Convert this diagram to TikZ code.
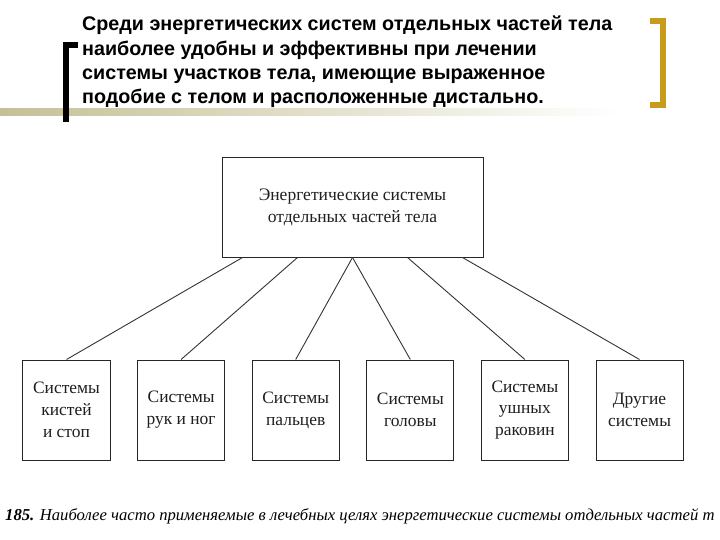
\documentclass[tikz,border=0pt]{standalone}
\usepackage{fontspec}
\setmainfont{Liberation Serif}
\newfontfamily\headfont{Liberation Sans}
\usepackage{xcolor}
\usetikzlibrary{positioning}
\definecolor{goldbar}{RGB}{200,156,26}
\definecolor{band}{RGB}{196,192,150}

\begin{document}
\begin{tikzpicture}[x=1bp, y=-1bp, node distance=26.6bp,
    every node/.style={text=black!88},
    topbox/.style={rectangle, draw=black!85, line width=1bp, minimum width=261bp, minimum height=99bp, align=center, font=\fontsize{17.6}{22}\selectfont},
    sysbox/.style={rectangle, draw=black!85, line width=1bp, minimum width=87bp, minimum height=100bp, align=center, inner sep=0pt, font=\fontsize{17.5}{22}\selectfont},
    link/.style={draw=black!80, line width=0.9bp},
]
\useasboundingbox[fill=white] (0,0) rectangle (720,540);

% header block
\shade[left color=band, right color=white] (0,109) rectangle (620,116);
\draw[line width=6bp, line join=miter] (78,45) -- (66,45) -- (66,122);
\draw[goldbar, line width=6bp, line join=miter] (650,21) -- (662.5,21) -- (662.5,105) -- (650,105);
\node[anchor=north west, inner sep=0pt, align=left, text=black, font=\headfont\bfseries\fontsize{19.8}{24.3}\selectfont] (lead) at (82,16)
    {Среди энергетических систем отдельных частей тела\\наиболее удобны и эффективны при лечении\\системы участков тела, имеющие выраженное\\подобие с телом и расположенные дистально.};

% tree
\node[topbox] (body) at (352.5,207.5) {Энергетические системы\\отдельных частей тела};
\node[sysbox] (kist) at (66.5,410) {Системы\\кистей\\и стоп};
\node[sysbox, right=of kist] (ruk) {Системы\\рук и ног};
\node[sysbox, right=of ruk] (palc) {Системы\\пальцев};
\node[sysbox, right=of palc] (golov) {Системы\\головы};
\node[sysbox, right=of golov] (ush) {Системы\\ушных\\раковин};
\node[sysbox, right=of ush] (drug) {Другие\\системы};

\foreach \n/\dx in {kist/-110, ruk/-55, palc/0, golov/0, ush/55, drug/110}
    \draw[link] ([xshift=\dx bp]body.south) -- (\n.north);

\node[anchor=base west, inner sep=0pt, text=black, font=\itshape\fontsize{16.7}{20}\selectfont] (caption) at (5,520)
    {\textbf{185.} Наиболее часто применяемые в лечебных целях энергетические системы отдельных частей т};
\end{tikzpicture}
\end{document}
